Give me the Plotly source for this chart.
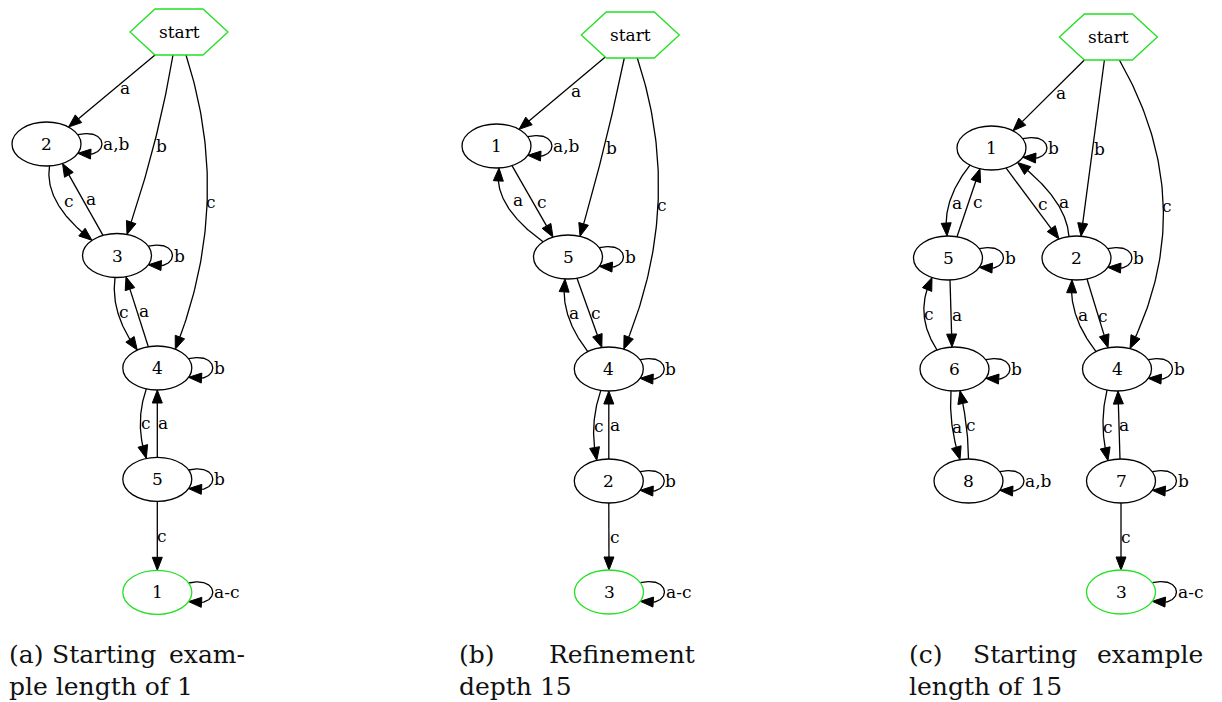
import math
import numpy as np
import plotly.graph_objects as go

# ---------------- automaton (a): starting example length of 1 ----------------
A_NODES = ["start", "2", "3", "4", "5", "1"]
A_FINAL = ["1"]
A_EDGES = [
    ("start", "2", "a"), ("start", "3", "b"), ("start", "4", "c"),
    ("2", "2", "a,b"), ("2", "3", "c"), ("3", "2", "a"),
    ("3", "3", "b"), ("3", "4", "c"), ("4", "3", "a"),
    ("4", "4", "b"), ("4", "5", "c"), ("5", "4", "a"),
    ("5", "5", "b"), ("5", "1", "c"), ("1", "1", "a-c"),
]

# ---------------- automaton (b): refinement depth 15 ----------------
B_NODES = ["start", "1", "5", "4", "2", "3"]
B_FINAL = ["3"]
B_EDGES = [
    ("start", "1", "a"), ("start", "5", "b"), ("start", "4", "c"),
    ("1", "1", "a,b"), ("1", "5", "c"), ("5", "1", "a"),
    ("5", "5", "b"), ("5", "4", "c"), ("4", "5", "a"),
    ("4", "4", "b"), ("4", "2", "c"), ("2", "4", "a"),
    ("2", "2", "b"), ("2", "3", "c"), ("3", "3", "a-c"),
]

# ---------------- automaton (c): starting example length of 15 ----------------
C_NODES = ["start", "1", "5", "2", "6", "4", "8", "7", "3"]
C_FINAL = ["3"]
C_EDGES = [
    ("start", "1", "a"), ("start", "2", "b"), ("start", "4", "c"),
    ("1", "1", "b"), ("1", "5", "a"), ("5", "1", "c"),
    ("1", "2", "c"), ("2", "1", "a"),
    ("5", "5", "b"), ("2", "2", "b"),
    ("5", "6", "a"), ("6", "5", "c"), ("2", "4", "c"), ("4", "2", "a"),
    ("6", "6", "b"), ("4", "4", "b"),
    ("6", "8", "a"), ("8", "6", "c"), ("4", "7", "c"), ("7", "4", "a"),
    ("8", "8", "a,b"), ("7", "7", "b"), ("7", "3", "c"), ("3", "3", "a-c"),
]

# sub-figure captions, one list of words per line
CAP_A = [["(a)", "Starting", "exam-"], ["ple length of 1"]]
CAP_B = [["(b)", "Refinement"], ["depth 15"]]
CAP_C = [["(c)", "Starting", "example"], ["length of 15"]]

# ---------------- drawing layout (page pixels) ----------------
POS_A = {"start": (179, 32), "2": (46.5, 144), "3": (117, 255.5),
         "4": (157.3, 368), "5": (157.3, 479.3), "1": (157.3, 592.3)}
POS_B = {"start": (630.3, 35), "1": (496.5, 146), "5": (568, 257),
         "4": (608.8, 369), "2": (608.8, 481), "3": (609, 592)}
POS_C = {"start": (1108.4, 37), "1": (991.5, 148), "5": (948, 258),
         "2": (1076.5, 258), "6": (954.5, 369), "4": (1117, 369),
         "8": (968.5, 481), "7": (1121, 481), "3": (1121, 592)}

# edge routing: tail x-offset, head x-offset, sideways bend, label dx, label dy
ROUTE_A = {
    ("start", "2"): (-24, 22, 0, 14, -3), ("start", "3"): (-6, 10, 8, 8, 0),
    ("start", "4"): (7, 18, 53, 4, -2), ("2", "3"): (3, -25, -27, 11, -3),
    ("3", "2"): (-14, 16, 0, 9, 0), ("3", "4"): (-2, -20, -16, 6, -2),
    ("4", "3"): (-9, 9, 0, 7, 0), ("4", "5"): (-11, -11, -12, 6, -1),
    ("5", "4"): (0, 0, 0, 6, 0), ("5", "1"): (0, 0, 0, 5, 0),
}
ROUTE_B = {
    ("start", "1"): (-25, 22.5, 0, 14, -3), ("start", "5"): (-6, 12, 4, 8, 0),
    ("start", "4"): (7, 15, 55, 4, 0), ("1", "5"): (15.5, -15, 0, 9, 0),
    ("5", "1"): (-25, 2.5, -29, 12, -4), ("5", "4"): (9, -7, 0, 6, 0),
    ("4", "5"): (-21, -3, -17, 6, -2), ("4", "2"): (-8, -12, -10, 5, 0),
    ("2", "4"): (0, 0, 0, 6, 0), ("2", "3"): (0, 0, 0, 6, 0),
}
ROUTE_C = {
    ("start", "1"): (-24, 21.5, 0, 13, -3), ("start", "2"): (-4, 4.5, 0, 7, 0),
    ("start", "4"): (11, 13, 77, 4, 0), ("1", "5"): (-21.5, -1, -17, 7, 2),
    ("5", "1"): (9, -11.5, 0, 9, 0), ("1", "2"): (14.5, -17.5, 0, 10, 0),
    ("2", "1"): (-7.5, 26, 23, 10, 3), ("5", "6"): (2, -2.5, 0, 6, 1),
    ("6", "5"): (-17.5, -16, -21, 5, 1), ("2", "4"): (10.5, -9, 0, 5, 2),
    ("4", "2"): (-21, -4.5, -16, 7, 0), ("6", "8"): (-3.5, -8.5, -7, 5, 1),
    ("8", "6"): (0, 5.5, 4, 5, 1), ("4", "7"): (-10, -13, -9, 5, 1),
    ("7", "4"): (-1, 1, 0, 5, 0), ("7", "3"): (0, 0, 0, 5, 0),
}

# caption word placement (justified lines): (x, anchor) per word, line centre y
CAP_LAYOUT = [
    (CAP_A, [[(7, "left"), (104, "center"), (247, "right")], [(7, "left")]]),
    (CAP_B, [[(457, "left"), (697, "right")], [(457, "left")]]),
    (CAP_C, [[(907, "left"), (1025, "center"), (1205, "right")], [(907, "left")]]),
]
CAP_Y = [654, 686]

W, H = 1222, 702
RX, RY = 34.5, 22.0
HEX_W, HEX_T, HEX_H = 49.0, 24.0, 23.0
ARROW_L, ARROW_W = 13.0, 5.0
GREEN = "#22e022"
NODE_FONT = dict(family="DejaVu Serif", size=17, color="black")
CAP_FONT = dict(family="DejaVu Serif", size=25, color="#111111")


def attach(pos, name, dx, side):
    cx, cy = pos[name]
    if name == "start":
        adx = abs(dx)
        h = HEX_H if adx <= HEX_T else HEX_H * (HEX_W - adx) / (HEX_W - HEX_T)
        return np.array([cx + dx, cy + side * h])
    r = max(0.0, 1 - (dx / RX) ** 2)
    return np.array([cx + dx, cy + side * RY * math.sqrt(r)])


def quad(p0, p1, p2, n=80):
    t = np.linspace(0, 1, n)[:, None]
    return (1 - t) ** 2 * p0 + 2 * (1 - t) * t * p1 + t ** 2 * p2


def cubic(p0, p1, p2, p3, n=80):
    t = np.linspace(0, 1, n)[:, None]
    return ((1 - t) ** 3 * p0 + 3 * (1 - t) ** 2 * t * p1
            + 3 * (1 - t) * t ** 2 * p2 + t ** 3 * p3)


def with_arrow(pts):
    tip = pts[-1]
    d = np.hypot(*(pts - tip).T)
    idx = np.where(d >= ARROW_L)[0][-1]
    u = tip - pts[idx]
    u = u / np.hypot(*u)
    base = tip - u * ARROW_L
    perp = np.array([-u[1], u[0]])
    line = np.vstack([pts[:idx + 1], base])
    tri = np.array([tip, base + perp * ARROW_W, base - perp * ARROW_W, tip])
    return line, tri


fig = go.Figure()
shapes, annotations = [], []
line_x, line_y = [], []


def draw_automaton(nodes, final, edges, pos, route):
    # nodes
    for name in nodes:
        cx, cy = pos[name]
        if name == "start":
            pts = [(cx - HEX_W, cy), (cx - HEX_T, cy - HEX_H), (cx + HEX_T, cy - HEX_H),
                   (cx + HEX_W, cy), (cx + HEX_T, cy + HEX_H), (cx - HEX_T, cy + HEX_H)]
            path = "M " + " L ".join(f"{x:.2f},{y:.2f}" for x, y in pts) + " Z"
            shapes.append(dict(type="path", path=path, xref="x", yref="y",
                               line=dict(color=GREEN, width=1.3), fillcolor="rgba(0,0,0,0)"))
        else:
            color = GREEN if name in final else "black"
            shapes.append(dict(type="circle", xref="x", yref="y",
                               x0=cx - RX, x1=cx + RX, y0=cy - RY, y1=cy + RY,
                               line=dict(color=color, width=1.3)))
        annotations.append(dict(x=cx, y=cy, xref="x", yref="y", text=name,
                                showarrow=False, font=NODE_FONT,
                                xanchor="center", yanchor="middle"))
    # edges
    for src, dst, lab in edges:
        if src == dst:
            cx, cy = pos[src]
            ang = math.radians(25)
            p0 = np.array([cx + RX * math.cos(ang), cy - RY * math.sin(ang)])
            p3 = np.array([cx + RX * math.cos(ang), cy + RY * math.sin(ang)])
            p1 = np.array([cx + RX + 29, cy - 17])
            p2 = np.array([cx + RX + 29, cy + 17])
            pts = cubic(p0, p1, p2, p3)
            lx, ly, xa = cx + RX + 20, cy, "left"
        else:
            tdx, hdx, bend, ldx, ldy = route[(src, dst)]
            down = pos[dst][1] > pos[src][1]
            p0 = attach(pos, src, tdx, 1 if down else -1)
            p2 = attach(pos, dst, hdx, -1 if down else 1)
            p1 = (p0 + p2) / 2 + np.array([bend, 0.0])
            pts = quad(p0, p1, p2)
            mid = pts[len(pts) // 2]
            lx, ly, xa = mid[0] + ldx, mid[1] + ldy, "center"
        line, tri = with_arrow(pts)
        line_x.extend(list(line[:, 0]) + [None])
        line_y.extend(list(line[:, 1]) + [None])
        fig.add_trace(go.Scatter(x=tri[:, 0], y=tri[:, 1], mode="lines",
                                 fill="toself", fillcolor="black",
                                 line=dict(color="black", width=1),
                                 hoverinfo="skip"))
        annotations.append(dict(x=lx, y=ly, xref="x", yref="y", text=lab,
                                showarrow=False, font=NODE_FONT,
                                xanchor=xa, yanchor="middle"))


draw_automaton(A_NODES, A_FINAL, A_EDGES, POS_A, ROUTE_A)
draw_automaton(B_NODES, B_FINAL, B_EDGES, POS_B, ROUTE_B)
draw_automaton(C_NODES, C_FINAL, C_EDGES, POS_C, ROUTE_C)

fig.add_trace(go.Scatter(x=line_x, y=line_y, mode="lines",
                         line=dict(color="black", width=1.3), hoverinfo="skip"))

# captions
for caption, placement in CAP_LAYOUT:
    for words, places, y in zip(caption, placement, CAP_Y):
        for word, (x, anchor) in zip(words, places):
            annotations.append(dict(x=x, y=y, xref="x", yref="y", text=word,
                                    showarrow=False, font=CAP_FONT,
                                    xanchor=anchor, yanchor="middle"))

fig.update_layout(
    width=W, height=H, margin=dict(l=0, r=0, t=0, b=0),
    paper_bgcolor="white", plot_bgcolor="white", showlegend=False,
    xaxis=dict(range=[0, W], visible=False, fixedrange=True),
    yaxis=dict(range=[H, 0], visible=False, fixedrange=True),
    shapes=shapes, annotations=annotations,
)

fig.write_html("out.html")
